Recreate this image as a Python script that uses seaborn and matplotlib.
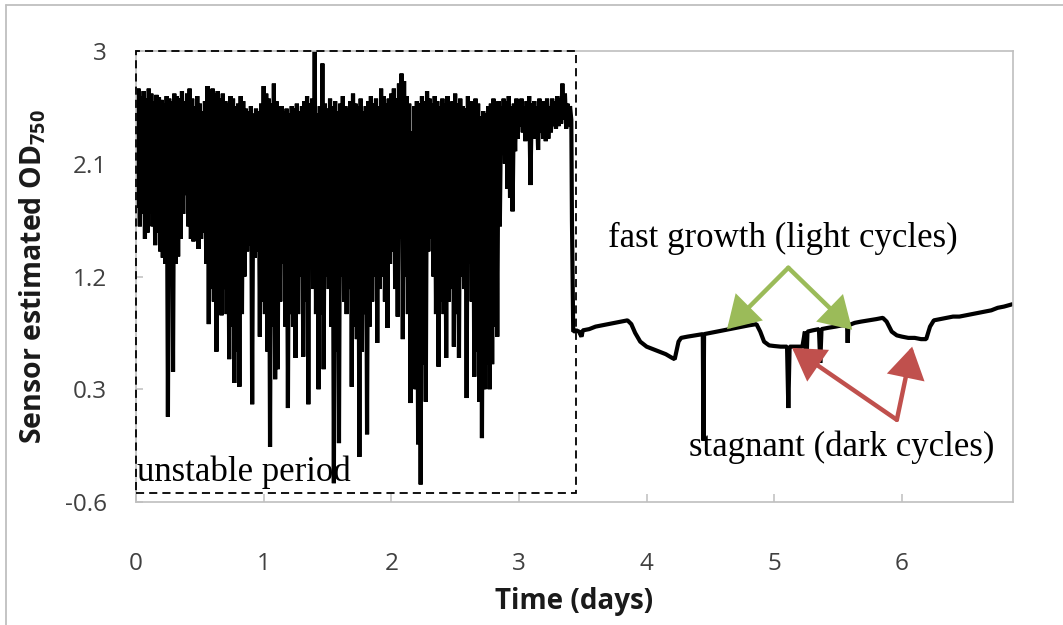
import numpy as np
import pandas as pd
import matplotlib
matplotlib.use("Agg")
import matplotlib.pyplot as plt
import seaborn as sns
from matplotlib.lines import Line2D
from matplotlib.patches import Rectangle

# ---------------- data ----------------
# unstable period: sampled every 0.02 day, upper and lower excursion per sample
noise_step = 0.02
noise_top = [
    2.66, 2.70, 2.64, 2.68, 2.62, 2.70, 2.66, 2.60, 2.65, 2.63,
    2.61, 2.58, 2.64, 2.62, 2.60, 2.66, 2.64, 2.62, 2.68, 2.60,
    2.66, 2.70, 2.62, 2.56, 2.64, 2.58, 2.52, 2.60, 2.72, 2.68,
    2.70, 2.66, 2.68, 2.62, 2.66, 2.60, 2.58, 2.64, 2.62, 2.56,
    2.58, 2.64, 2.60, 2.54, 2.52, 2.56, 2.50, 2.54, 2.52, 2.58,
    2.72, 2.66, 2.62, 2.58, 2.74, 2.60, 2.54, 2.56, 2.52, 2.54,
    2.50, 2.56, 2.54, 2.58, 2.52, 2.56, 2.60, 2.64, 2.58, 2.62,
    3.00, 2.50, 2.56, 2.90, 2.58, 2.54, 2.62, 2.56, 2.60, 2.52,
    2.58, 2.64, 2.56, 2.54, 2.60, 2.66, 2.58, 2.56, 2.62, 2.52,
    2.56, 2.60, 2.64, 2.58, 2.62, 2.56, 2.70, 2.64, 2.58, 2.62,
    2.66, 2.70, 2.62, 2.74, 2.82, 2.76, 2.64, 2.58, 2.36, 2.56,
    2.60, 2.58, 2.64, 2.60, 2.68, 2.62, 2.58, 2.64, 2.60, 2.56,
    2.62, 2.58, 2.64, 2.56, 2.60, 2.66, 2.58, 2.62, 2.56, 2.54,
    2.64, 2.60, 2.56, 2.62, 2.58, 2.48, 2.52, 2.50, 2.56, 2.58,
    2.62, 2.58, 2.60, 2.56, 2.62, 2.60, 2.64, 2.56, 2.58, 2.62,
    2.58, 2.62, 2.56, 2.60, 2.64, 2.58, 2.60, 2.56, 2.62, 2.58,
    2.60, 2.62, 2.56, 2.62, 2.60, 2.64, 2.62, 2.74, 2.66, 2.58, 2.56,
]
noise_bottom = [
    1.75, 1.60, 1.70, 1.50, 1.55, 1.70, 1.60, 1.45, 1.55, 1.40,
    1.35, 1.30, 0.08, 1.20, 0.44, 1.30, 1.36, 1.50, 1.70, 1.85,
    1.60, 1.50, 1.48, 1.50, 1.42, 1.50, 1.55, 1.30, 0.82, 1.10,
    1.00, 0.60, 1.00, 0.89, 1.10, 0.90, 0.54, 0.80, 0.35, 0.60,
    0.32, 0.90, 1.20, 1.40, 1.45, 0.18, 1.35, 1.40, 0.72, 1.00,
    0.90, 0.60, -0.16, 0.80, 0.38, 0.46, 1.00, 1.30, 0.80, 0.15,
    0.90, 0.80, 0.55, 0.90, 1.20, 0.56, 1.00, 0.18, 1.30, 1.10,
    0.90, 0.30, 0.90, 0.46, 1.20, 1.10, 0.80, -0.45, 0.60, -0.13,
    1.20, 1.00, 0.90, 1.10, 0.32, 0.80, 0.70, -0.24, 0.60, 0.90,
    -0.06, 0.80, 1.00, 1.20, 0.67, 1.10, 1.20, 1.00, 0.79, 1.30,
    1.40, 1.10, 0.88, 1.50, 0.70, 1.20, 0.90, 0.19, 0.60, 0.30,
    -0.14, -0.46, 0.50, 0.20, 1.40, 1.50, 1.20, 0.90, 0.48, 1.00,
    0.90, 0.55, 1.00, 1.10, 0.64, 0.90, 0.55, 1.20, 1.10, 0.23,
    1.30, 1.00, 0.40, 0.60, 0.20, -0.09, 0.30, 0.50, 0.30, 0.50,
    0.80, 0.72, 1.60, 2.20, 2.10, 1.90, 1.83, 1.72, 2.20, 2.30,
    2.40, 2.35, 2.28, 2.30, 1.93, 2.35, 2.30, 2.21, 2.35, 2.30,
    2.28, 2.30, 2.35, 2.40, 2.38, 2.40, 2.42, 2.45, 2.38, 2.40, 2.45,
]

# stable period after the sensor settles
stable_t = [3.415, 3.425, 3.45, 3.47, 3.49, 3.50, 3.55, 3.60, 3.65, 3.70,
            3.75, 3.80, 3.85, 3.88, 3.91, 3.95, 4.00, 4.05, 4.10, 4.15,
            4.20, 4.22, 4.25, 4.27, 4.32, 4.38, 4.44, 4.445, 4.45, 4.50,
            4.55, 4.60, 4.65, 4.70, 4.75, 4.80, 4.86, 4.89, 4.92, 4.96,
            5.00, 5.05, 5.10, 5.11, 5.12, 5.18, 5.22, 5.24, 5.25, 5.26,
            5.30, 5.35, 5.36, 5.37, 5.42, 5.48, 5.53, 5.57, 5.575, 5.58,
            5.63, 5.68, 5.74, 5.80, 5.85, 5.88, 5.92, 5.96, 6.00, 6.05,
            6.10, 6.15, 6.19, 6.22, 6.25, 6.30, 6.35, 6.40, 6.45, 6.50,
            6.55, 6.60, 6.65, 6.70, 6.75, 6.80, 6.87]
stable_od = [1.65, 0.76, 0.77, 0.76, 0.72, 0.77, 0.78, 0.80, 0.81, 0.82,
             0.83, 0.84, 0.85, 0.82, 0.75, 0.68, 0.64, 0.62, 0.60, 0.58,
             0.55, 0.54, 0.68, 0.71, 0.72, 0.73, 0.74, -0.11, 0.74, 0.75,
             0.76, 0.77, 0.78, 0.79, 0.80, 0.81, 0.82, 0.76, 0.68, 0.65,
             0.645, 0.64, 0.64, 0.15, 0.64, 0.64, 0.64, 0.76, 0.43, 0.76,
             0.77, 0.78, 0.51, 0.78, 0.79, 0.80, 0.81, 0.81, 0.67, 0.81,
             0.83, 0.84, 0.85, 0.86, 0.87, 0.84, 0.76, 0.73, 0.72, 0.71,
             0.71, 0.70, 0.70, 0.80, 0.85, 0.86, 0.87, 0.88, 0.88, 0.89,
             0.90, 0.91, 0.92, 0.93, 0.95, 0.96, 0.98]

x_ticks = [0, 1, 2, 3, 4, 5, 6]
y_ticks = [-0.6, 0.3, 1.2, 2.1, 3.0]
y_tick_labels = ["-0.6", "0.3", "1.2", "2.1", "3"]

# build the series table from the lists
n = len(noise_top)
base_t = np.arange(n) * noise_step
noise_t = np.column_stack([base_t, base_t + noise_step / 2]).ravel()
noise_od = np.column_stack([noise_top, noise_bottom]).ravel()
df = pd.DataFrame({
    "t": np.concatenate([noise_t, stable_t]),
    "od": np.concatenate([noise_od, stable_od]),
})

# ---------------- style ----------------
sns.set_style("white")
plt.rcParams["font.family"] = ["Open Sans", "DejaVu Sans"]
plt.rcParams["mathtext.fontset"] = "custom"
plt.rcParams["mathtext.rm"] = "Open Sans"
plt.rcParams["mathtext.bf"] = "Open Sans:bold"
plt.rcParams["path.simplify"] = False

W, H = 1063, 625
fig = plt.figure(figsize=(W / 100, H / 100), dpi=100)
fig.patch.set_facecolor("white")
ax = fig.add_axes([136 / W, 1 - 502 / H, (1013 - 136) / W, (502 - 51) / H])

sns.lineplot(data=df, x="t", y="od", estimator=None, sort=False,
             color="black", linewidth=3.0, ax=ax, zorder=2)
for ln in ax.get_lines():
    ln.set_linewidth(3.0)
    ln.set_solid_joinstyle("bevel")
    ln.set_solid_capstyle("butt")

ax.set_xlim(0, 6.87)
ax.set_ylim(-0.6, 3.0)
ax.set_xticks(x_ticks)
ax.set_yticks(y_ticks)
ax.set_yticklabels(y_tick_labels)

grey = "#bfbfbf"
for s in ax.spines.values():
    s.set_color(grey)
    s.set_linewidth(1.2)

ax.tick_params(axis="x", direction="in", length=6, width=1.1, color=grey,
               labelsize=17.5, labelcolor="#404040", pad=36,
               bottom=True, top=False)
ax.tick_params(axis="y", direction="in", length=5, width=1.1, color=grey,
               labelsize=17.5, labelcolor="#404040", pad=21,
               left=True, right=False)

ax.set_xlabel("Time (days)", fontsize=20, fontweight="bold",
              color="#1a1a1a", labelpad=8)
ax.set_ylabel(r"Sensor estimated OD$_{\mathbf{750}}$", fontsize=20.5,
              fontweight="bold", color="#1a1a1a", labelpad=12)

# dashed box marking the unstable period
rect = Rectangle((0, -0.53), 3.45, 3.53, fill=False, edgecolor="black",
                 linestyle=(0, (4.5, 2.8)), lw=1.3, zorder=3, clip_on=False)
ax.add_patch(rect)

serif = ["Liberation Serif", "DejaVu Serif"]
ax.text(0.01, -0.36, "unstable period", family=serif, fontsize=25,
        ha="left", va="center", color="black", zorder=4)
ax.text(5.07, 1.50, "fast growth (light cycles)", family=serif, fontsize=25,
        ha="center", va="center", color="black", zorder=4)
ax.text(5.53, -0.16, "stagnant (dark cycles)", family=serif, fontsize=25,
        ha="center", va="center", color="black", zorder=4)

green = "#9bbb59"
red = "#c0504d"
arrow_kw = dict(arrowstyle="-|>,head_length=0.9,head_width=0.55",
                lw=3.2, shrinkA=0, shrinkB=0, mutation_scale=20,
                joinstyle="miter")
for tip in [(4.63, 0.78), (5.61, 0.775)]:
    ax.annotate("", xy=tip, xytext=(5.11, 1.27),
                arrowprops=dict(color=green, **arrow_kw), zorder=5)
for tip in [(5.14, 0.63), (6.08, 0.64)]:
    ax.annotate("", xy=tip, xytext=(5.96, 0.056),
                arrowprops=dict(color=red, **arrow_kw), zorder=5)

# outer frame (left and top edges visible in the reference)
fig.add_artist(Line2D([6 / W, 6 / W], [0, 1 - 5 / H], transform=fig.transFigure,
                      color=grey, lw=1.3))
fig.add_artist(Line2D([6 / W, 1], [1 - 5 / H, 1 - 5 / H], transform=fig.transFigure,
                      color=grey, lw=1.3))

fig.savefig("out.png", dpi=100, facecolor="white")
